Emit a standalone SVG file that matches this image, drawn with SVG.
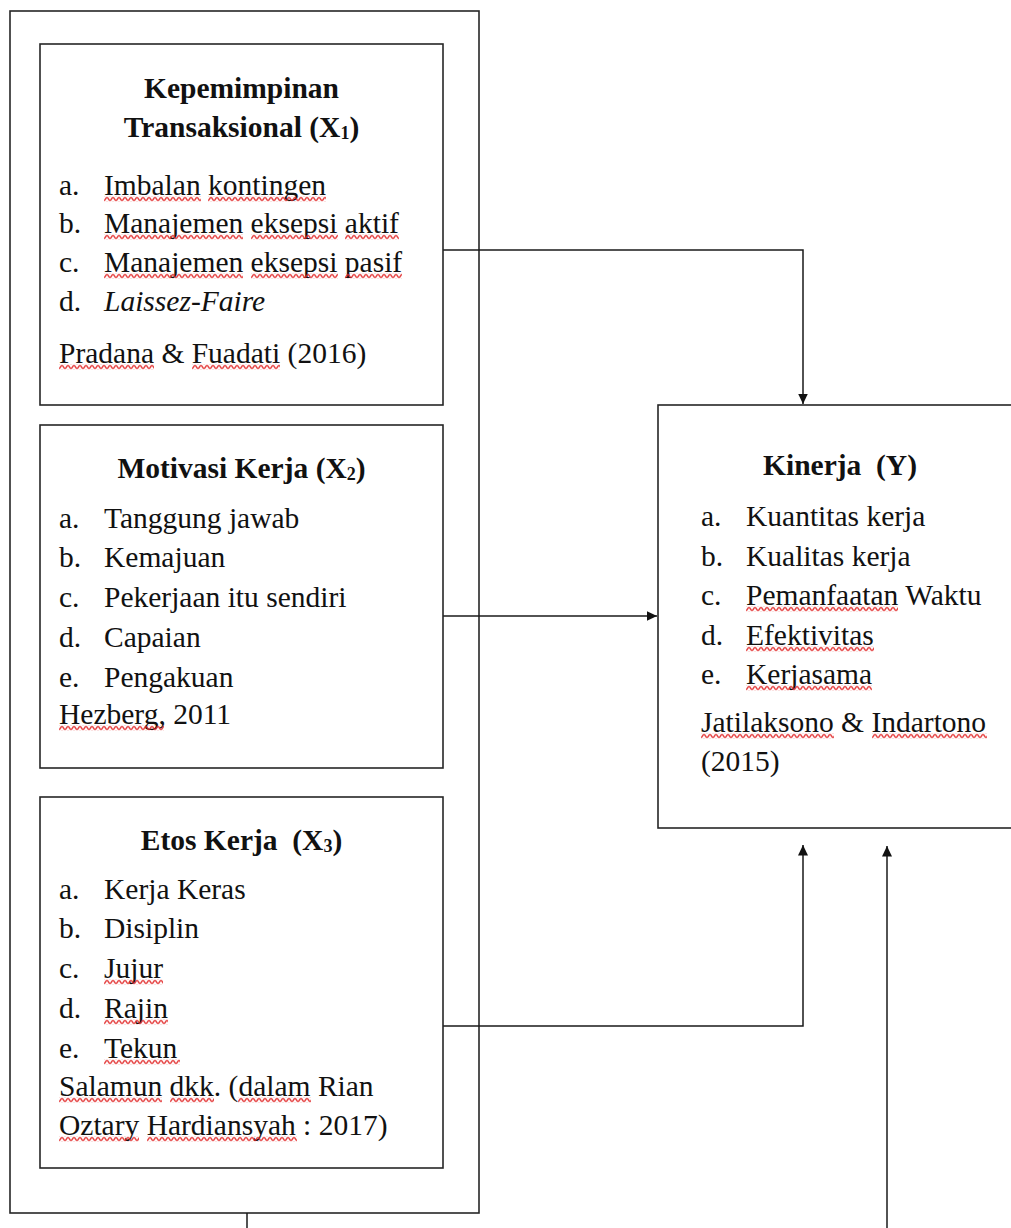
<svg xmlns="http://www.w3.org/2000/svg" width="1011" height="1228" viewBox="0 0 1011 1228">
<style>
.box{fill:#fff;stroke:#262626;stroke-width:1.6}
.outer{fill:none;stroke:#262626;stroke-width:1.6}
text{font-family:"Liberation Serif","Times New Roman",serif;font-size:29.5px;fill:#111;white-space:pre}
.t{font-weight:bold;text-anchor:middle}
.i{font-style:italic}
.sub{font-size:18px}
.conn{fill:none;stroke:#1a1a1a;stroke-width:1.5}
.sq{fill:url(#squig)}
</style>
<defs>
<pattern id="squig" patternUnits="userSpaceOnUse" width="6" height="5">
<path d="M0,4 C1.5,4 1.5,1 3,1 C4.5,1 4.5,4 6,4" fill="none" stroke="#e02424" stroke-width="1.3"/>
</pattern>
<marker id="arr" markerUnits="userSpaceOnUse" markerWidth="11" markerHeight="11" refX="10.5" refY="5" orient="auto">
<path d="M0,0 L10.5,5 L0,10 z" fill="#111"/>
</marker>
</defs>
<rect width="1011" height="1228" fill="#fff"/>

<g id="outer-frame">
<rect class="outer" x="10" y="11" width="469" height="1202"/>
</g>

<g id="connectors">
<path class="conn" d="M443,250 H803 V404" marker-end="url(#arr)"/>
<path class="conn" d="M443,616 H657" marker-end="url(#arr)"/>
<path class="conn" d="M443,1026 H803 V845" marker-end="url(#arr)"/>
<path class="conn" d="M887,1228 V846" marker-end="url(#arr)"/>
<path class="conn" d="M247,1213 V1228"/>
</g>

<g id="node-x1">
<rect class="box" x="40" y="44" width="403" height="361"/>
<text class="t" x="241.5" y="98">Kepemimpinan</text>
<text class="t" x="241.5" y="137">Transaksional (X<tspan class="sub" dy="2">1</tspan><tspan dy="-2">)</tspan></text>
<text x="59" y="195">a.</text><text x="104" y="195">Imbalan kontingen</text>
<text x="59" y="233">b.</text><text x="104" y="233">Manajemen eksepsi aktif</text>
<text x="59" y="272">c.</text><text x="104" y="272">Manajemen eksepsi pasif</text>
<text x="59" y="311">d.</text><text class="i" x="104" y="311">Laissez-Faire</text>
<text x="59" y="363">Pradana &amp; Fuadati (2016)</text>
<rect class="sq" transform="translate(104,196.5)" width="97" height="5"/>
<rect class="sq" transform="translate(208,196.5)" width="118" height="5"/>
<rect class="sq" transform="translate(104,234.5)" width="139" height="5"/>
<rect class="sq" transform="translate(251,234.5)" width="87" height="5"/>
<rect class="sq" transform="translate(345,234.5)" width="54" height="5"/>
<rect class="sq" transform="translate(104,273.5)" width="139" height="5"/>
<rect class="sq" transform="translate(251,273.5)" width="87" height="5"/>
<rect class="sq" transform="translate(345,273.5)" width="57" height="5"/>
<rect class="sq" transform="translate(59,364.5)" width="95" height="5"/>
<rect class="sq" transform="translate(192,364.5)" width="88" height="5"/>
</g>

<g id="node-x2">
<rect class="box" x="40" y="425" width="403" height="343"/>
<text class="t" x="241.5" y="478">Motivasi Kerja (X<tspan class="sub" dy="2">2</tspan><tspan dy="-2">)</tspan></text>
<text x="59" y="528">a.</text><text x="104" y="528">Tanggung jawab</text>
<text x="59" y="567">b.</text><text x="104" y="567">Kemajuan</text>
<text x="59" y="607">c.</text><text x="104" y="607">Pekerjaan itu sendiri</text>
<text x="59" y="647">d.</text><text x="104" y="647">Capaian</text>
<text x="59" y="687">e.</text><text x="104" y="687">Pengakuan</text>
<text x="59" y="724">Hezberg, 2011</text>
<rect class="sq" transform="translate(59,725.5)" width="105" height="5"/>
</g>

<g id="node-x3">
<rect class="box" x="40" y="797" width="403" height="371"/>
<text class="t" x="241.5" y="850">Etos Kerja  (X<tspan class="sub" dy="2">3</tspan><tspan dy="-2">)</tspan></text>
<text x="59" y="899">a.</text><text x="104" y="899">Kerja Keras</text>
<text x="59" y="938">b.</text><text x="104" y="938">Disiplin</text>
<text x="59" y="978">c.</text><text x="104" y="978">Jujur</text>
<text x="59" y="1018">d.</text><text x="104" y="1018">Rajin</text>
<text x="59" y="1058">e.</text><text x="104" y="1058">Tekun</text>
<text x="59" y="1096">Salamun dkk. (dalam Rian</text>
<text x="59" y="1135">Oztary Hardiansyah : 2017)</text>
<rect class="sq" transform="translate(104,979.5)" width="59" height="5"/>
<rect class="sq" transform="translate(104,1019.5)" width="64" height="5"/>
<rect class="sq" transform="translate(104,1059.5)" width="76" height="5"/>
<rect class="sq" transform="translate(59,1097.5)" width="103" height="5"/>
<rect class="sq" transform="translate(170,1097.5)" width="44" height="5"/>
<rect class="sq" transform="translate(238,1097.5)" width="73" height="5"/>
<rect class="sq" transform="translate(59,1136.5)" width="80" height="5"/>
<rect class="sq" transform="translate(147,1136.5)" width="150" height="5"/>
</g>

<g id="node-y">
<rect class="box" x="658" y="405" width="364" height="423"/>
<text class="t" x="840" y="475">Kinerja  (Y)</text>
<text x="701" y="526">a.</text><text x="746" y="526">Kuantitas kerja</text>
<text x="701" y="566">b.</text><text x="746" y="566">Kualitas kerja</text>
<text x="701" y="605">c.</text><text x="746" y="605">Pemanfaatan Waktu</text>
<text x="701" y="645">d.</text><text x="746" y="645">Efektivitas</text>
<text x="701" y="684">e.</text><text x="746" y="684">Kerjasama</text>
<text x="701" y="732">Jatilaksono &amp; Indartono</text>
<text x="701" y="771">(2015)</text>
<rect class="sq" transform="translate(746,606.5)" width="152" height="5"/>
<rect class="sq" transform="translate(746,646.5)" width="128" height="5"/>
<rect class="sq" transform="translate(746,685.5)" width="126" height="5"/>
<rect class="sq" transform="translate(701,733.5)" width="133" height="5"/>
<rect class="sq" transform="translate(872,733.5)" width="115" height="5"/>
</g>
</svg>
